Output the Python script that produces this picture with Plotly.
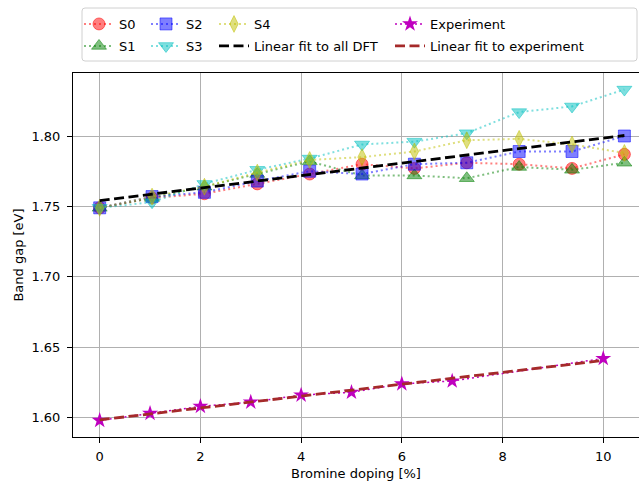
import numpy as np
import plotly.graph_objects as go

# ---------------- data ----------------
doping_dft = [0.0, 1.04, 2.08, 3.13, 4.17, 5.21, 6.25, 7.29, 8.33, 9.38, 10.42]
gap_s0 = [1.749, 1.756, 1.759, 1.766, 1.773, 1.780, 1.777, 1.781, 1.780, 1.777, 1.787]
gap_s1 = [1.749, 1.756, 1.764, 1.773, 1.782, 1.772, 1.772, 1.770, 1.778, 1.776, 1.781]
gap_s2 = [1.749, 1.757, 1.760, 1.768, 1.775, 1.773, 1.780, 1.781, 1.789, 1.789, 1.800]
gap_s3 = [1.749, 1.753, 1.766, 1.776, 1.784, 1.794, 1.796, 1.802, 1.817, 1.821, 1.833]
gap_s4 = [1.749, 1.757, 1.764, 1.774, 1.783, 1.785, 1.789, 1.797, 1.798, 1.794, 1.788]

doping_exp = [0, 1, 2, 3, 4, 5, 6, 7, 10]
gap_exp = [1.598, 1.603, 1.608, 1.611, 1.616, 1.618, 1.624, 1.626, 1.642]

series_names = ["S0", "S1", "S2", "S3", "S4"]
series_values = [gap_s0, gap_s1, gap_s2, gap_s3, gap_s4]

x_ticks = [0, 2, 4, 6, 8, 10]
y_ticks = [1.60, 1.65, 1.70, 1.75, 1.80]

# ---------------- styles ----------------
series_rgb = ["255,0,0", "0,128,0", "0,0,255", "0,191,191", "191,191,0"]
series_symbols = ["circle", "triangle-up", "square", "triangle-down", "diamond-tall"]
series_sizes = [12, 13, 12, 13, 12]

FONT = "DejaVu Sans"
W, H = 639, 483
ML, MR, MT, MB = 73, 0, 73, 46
pw, ph = W - ML - MR, H - MT - MB

# legend slot for each entry (column-major, 2 rows x 4 columns like the reference)
ROW_Y = [24, 46]             # centre of each legend row (px from top)
COL_X = [79, 146, 214, 390]  # left of each legend column (px)
slots = {
    "S0": (0, 0), "S1": (0, 1), "S2": (1, 0), "S3": (1, 1), "S4": (2, 0),
    "Linear fit to all DFT": (2, 1), "Experiment": (3, 0), "Linear fit to experiment": (3, 1),
}
legend_ids = {}
legend_layout = {}

def px2paper(px, py):
    return (px - ML) / pw, (H - MB - py) / ph

for i, (nm, (c, r)) in enumerate(slots.items()):
    lid = "legend" if i == 0 else f"legend{i+1}"
    legend_ids[nm] = lid
    x, y = px2paper(COL_X[c], ROW_Y[r] - 15)
    legend_layout[lid] = dict(xref="paper", yref="paper", x=x, y=y,
                              xanchor="left", yanchor="top", orientation="v",
                              bgcolor="rgba(0,0,0,0)", borderwidth=0, tracegroupgap=0,
                              font=dict(family=FONT, size=13, color="black"))

fig = go.Figure()

for name, vals, rgb, sym, sz in zip(series_names, series_values, series_rgb,
                                     series_symbols, series_sizes):
    fig.add_trace(go.Scatter(
        x=doping_dft, y=vals, name=name, mode="lines+markers", legend=legend_ids[name],
        line=dict(color=f"rgba({rgb},0.5)", width=2, dash="2px,3px"),
        marker=dict(symbol=sym, size=sz, color=f"rgba({rgb},0.5)",
                    line=dict(color=f"rgba({rgb},0.5)", width=1)),
    ))

fig.add_trace(go.Scatter(
    x=doping_exp, y=gap_exp, name="Experiment", mode="lines+markers",
    legend=legend_ids["Experiment"],
    line=dict(color="rgb(191,0,191)", width=1.5, dash="2px,3px"),
    marker=dict(symbol="star", size=12, color="rgb(191,0,191)"),
))

# linear fits (least squares on the data arrays)
all_x = np.tile(np.array(doping_dft), len(series_values))
all_y = np.concatenate([np.array(v) for v in series_values])
p_dft = np.polyfit(all_x, all_y, 1)
fit_dft_x = [doping_dft[0], doping_dft[-1]]
fig.add_trace(go.Scatter(
    x=fit_dft_x, y=[float(v) for v in np.polyval(p_dft, fit_dft_x)],
    name="Linear fit to all DFT", mode="lines", legend=legend_ids["Linear fit to all DFT"],
    line=dict(color="black", width=2.8, dash="10px,4.5px"),
))

p_exp = np.polyfit(np.array(doping_exp), np.array(gap_exp), 1)
fit_exp_x = [doping_exp[0], doping_exp[-1]]
fig.add_trace(go.Scatter(
    x=fit_exp_x, y=[float(v) for v in np.polyval(p_exp, fit_exp_x)],
    name="Linear fit to experiment", mode="lines",
    legend=legend_ids["Linear fit to experiment"],
    line=dict(color="rgb(165,42,42)", width=2.8, dash="10px,4.5px"),
))

ally = all_y.tolist() + gap_exp
ymin, ymax = min(ally), max(ally)
pad = 0.05 * (ymax - ymin)

# legend frame (paper coordinates)
bx0, by0, bx1, by1 = 82, 8, 637, 61
x0, y1 = px2paper(bx0, by0)
x1, y0 = px2paper(bx1, by1)
rx, ry = 3 / pw, 3 / ph
path = (f"M{x0+rx},{y0} L{x1-rx},{y0} Q{x1},{y0} {x1},{y0+ry} L{x1},{y1-ry} "
        f"Q{x1},{y1} {x1-rx},{y1} L{x0+rx},{y1} Q{x0},{y1} {x0},{y1-ry} "
        f"L{x0},{y0+ry} Q{x0},{y0} {x0+rx},{y0} Z")

fig.update_layout(
    width=W, height=H,
    margin=dict(l=ML, r=MR, t=MT, b=MB, pad=0, autoexpand=False),
    paper_bgcolor="white", plot_bgcolor="white",
    font=dict(family=FONT, size=13, color="black"),
    showlegend=True,
    shapes=[dict(type="path", path=path, xref="paper", yref="paper",
                 line=dict(color="#d0d0d0", width=1), fillcolor="rgba(255,255,255,0.8)",
                 layer="below")],
    **legend_layout,
)

fig.update_xaxes(
    range=[-0.53, 10.71], tickvals=x_ticks, ticktext=[str(t) for t in x_ticks],
    showgrid=True, gridcolor="#b0b0b0", gridwidth=1.1,
    showline=True, linecolor="black", linewidth=1, mirror=True,
    ticks="outside", ticklen=5, tickwidth=1, tickcolor="black",
    zeroline=False, automargin=False, ticklabelstandoff=2,
    title=dict(text="Bromine doping [%]", font=dict(family=FONT, size=13), standoff=6),
)
fig.update_yaxes(
    range=[ymin - pad, ymax + pad], tickvals=y_ticks, ticktext=[f"{t:.2f}" for t in y_ticks],
    showgrid=True, gridcolor="#b0b0b0", gridwidth=1.1,
    showline=True, linecolor="black", linewidth=1, mirror=False,
    ticks="outside", ticklen=5, tickwidth=1, tickcolor="black",
    zeroline=False, automargin=False, ticklabelstandoff=4,
    title=dict(text="Band gap [eV]", font=dict(family=FONT, size=13), standoff=4),
)

fig.write_html("out.html", config={"displayModeBar": False},
               post_script="document.body.style.margin='0px';")
